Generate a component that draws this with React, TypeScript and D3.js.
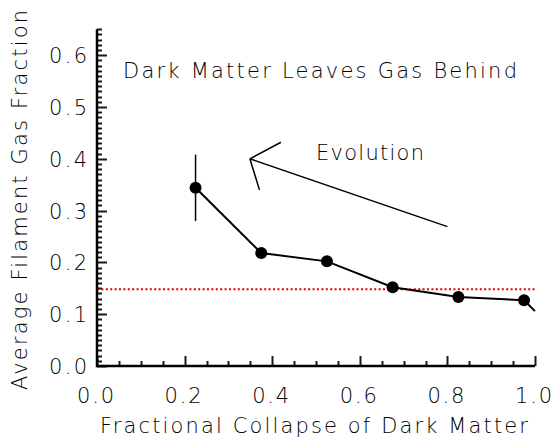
import React from "react";
import * as d3 from "d3";

const collapseFraction = [0.225, 0.375, 0.525, 0.675, 0.825, 0.975];
const gasFraction = [0.344, 0.218, 0.202, 0.152, 0.133, 0.127];
const lineTailX = [0.975, 1.0];
const lineTailY = [0.127, 0.106];
const errX = [0.225];
const errLow = [0.28];
const errHigh = [0.408];
const baryonFraction = 0.148;
const arrowShaft = [[0.349, 0.40], [0.80, 0.269]];
const arrowHeadA = [[0.349, 0.40], [0.42, 0.432]];
const arrowHeadB = [[0.349, 0.40], [0.371, 0.34]];
const xTicks = [0, 0.2, 0.4, 0.6, 0.8, 1.0];
const yTicks = [0, 0.1, 0.2, 0.3, 0.4, 0.5, 0.6];
const xTickLabels = ["0.0", "0.2", "0.4", "0.6", "0.8", "1.0"];
const yTickLabels = ["0.0", "0.1", "0.2", "0.3", "0.4", "0.5", "0.6"];

export default function App() {
  const W = 555, H = 440;
  const x = d3.scaleLinear().domain([0, 1]).range([97, 535]);
  const y = d3.scaleLinear().domain([0, 0.65]).range([366, 29.3]);
  const line = d3.line<number[]>().x(d => x(d[0])).y(d => y(d[1]));
  const pts = collapseFraction.map((c, i) => [c, gasFraction[i]]);
  const tail = lineTailX.map((c, i) => [c, lineTailY[i]]);
  const font = "DejaVu Sans, sans-serif";
  let tickPath = "";
  for (let i = 0; i <= 20; i++) {
    const px = Math.round(x(i * 0.05)) + 0.5;
    tickPath += `M${px},366V${366 - (i % 4 === 0 ? 10 : 5)}`;
  }
  for (let i = 0; i <= 65; i++) {
    const py = Math.round(y(i * 0.01)) + 0.5;
    tickPath += `M97,${py}H${97 + (i % 10 === 0 ? 10 : 5)}`;
  }
  return (
    <svg width={W} height={H} style={{ position: "absolute", left: 0, top: 0 }}>
      <path d={tickPath} fill="none" stroke="#1a1a1a" strokeWidth={2} />
      {xTicks.map((t, i) => (
        <text key={"xt" + i} x={x(t) - 1.5} y={403} textAnchor="middle" fontFamily={font} fontWeight={300} fontSize={21} textLength={37} lengthAdjust="spacing">{xTickLabels[i]}</text>
      ))}
      {yTicks.map((t, i) => (
        <text key={"yt" + i} x={87} y={y(t) + 8} textAnchor="end" fontFamily={font} fontWeight={300} fontSize={21} textLength={38} lengthAdjust="spacing">{yTickLabels[i]}</text>
      ))}
      <text x={100} y={433} fontFamily={font} fontWeight={300} fontSize={21} textLength={428} lengthAdjust="spacing">Fractional Collapse of Dark Matter</text>
      <text transform="translate(27,390) rotate(-90)" fontFamily={font} fontWeight={300} fontSize={21} textLength={380} lengthAdjust="spacing">Average Filament Gas Fraction</text>
      <line x1={x(0)} x2={x(1)} y1={y(baryonFraction)} y2={y(baryonFraction)} stroke="#e00000" strokeWidth={2} strokeDasharray="2,2.4" />
      <text x={123} y={78} fontFamily={font} fontWeight={300} fontSize={21} textLength={394} lengthAdjust="spacing">Dark Matter Leaves Gas Behind</text>
      <text x={316} y={160} fontFamily={font} fontWeight={300} fontSize={21} textLength={108} lengthAdjust="spacing">Evolution</text>
      {[arrowShaft, arrowHeadA, arrowHeadB].map((a, i) => (
        <path key={"ar" + i} d={line(a) || ""} fill="none" stroke="#000" strokeWidth={1.5} />
      ))}
      {errX.map((e, i) => (
        <line key={"eb" + i} x1={x(e)} x2={x(e)} y1={y(errLow[i])} y2={y(errHigh[i])} stroke="#000" strokeWidth={1.5} />
      ))}
      <path d={line(pts) || ""} fill="none" stroke="#000" strokeWidth={2} />
      <path d={line(tail) || ""} fill="none" stroke="#000" strokeWidth={2} />
      {pts.map((p, i) => (
        <circle key={"p" + i} cx={x(p[0])} cy={y(p[1])} r={6} fill="#000" />
      ))}
      <path d={`M${x(0)},${y(0.65)}V${y(0)}H${x(1)}`} fill="none" stroke="#000" strokeWidth={2.5} />
    </svg>
  );
}
